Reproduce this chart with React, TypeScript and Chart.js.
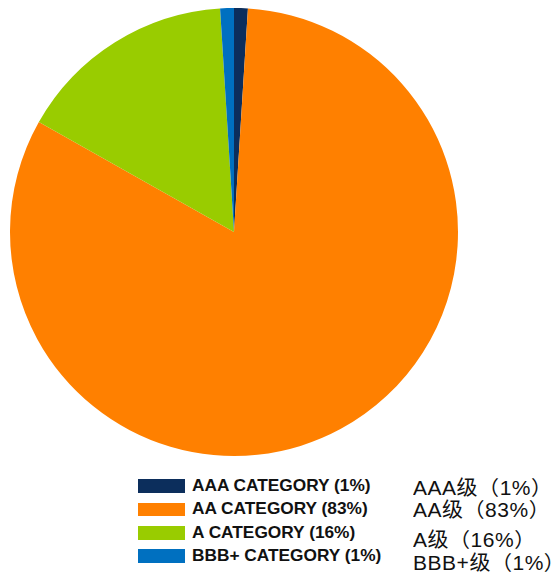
import React, { useEffect, useRef } from "react";
import { Chart, registerables } from "chart.js";

Chart.register(...registerables);

const categories = ["AAA CATEGORY", "AA CATEGORY", "A CATEGORY", "BBB+ CATEGORY"];
const chineseLabels = ["AAA级", "AA级", "A级", "BBB+级"];
const values = [1, 83, 16, 1];
const colors = ["#0c2e5c", "#ff8000", "#99cc00", "#0070c0"];

const boxTops = [479, 502.5, 526, 549.3];
const textTops = [477, 500.4, 523.7, 547.2];
const cnTops = [478, 500.4, 530.4, 553];

export default function App() {
  const ref = useRef<HTMLCanvasElement>(null);
  useEffect(() => {
    if (!ref.current) return;
    const chart = new Chart(ref.current, {
      type: "pie",
      data: {
        labels: categories,
        datasets: [
          {
            data: values,
            backgroundColor: colors,
            borderWidth: 0,
          },
        ],
      },
      options: {
        animation: false,
        responsive: false,
        layout: { padding: 8 },
        plugins: {
          legend: { display: false },
          tooltip: { enabled: false },
        },
      },
    });
    return () => chart.destroy();
  }, []);

  return (
    <div style={{ position: "absolute", left: 0, top: 0, width: 551, height: 574, background: "#fff", overflow: "hidden" }}>
      <canvas ref={ref} width={468} height={464} style={{ position: "absolute", left: 0, top: 0, width: 468, height: 464 }} />
      {categories.map((c, i) => (
        <React.Fragment key={c}>
          <div
            style={{
              position: "absolute",
              left: 138,
              top: boxTops[i],
              width: 47,
              height: 13.5,
              background: colors[i],
            }}
          />
          <div
            style={{
              position: "absolute",
              left: 192,
              top: textTops[i],
              fontFamily: "'Liberation Sans', Arial, sans-serif",
              fontWeight: "bold",
              fontSize: 17.3,
              lineHeight: "17px",
              whiteSpace: "nowrap",
              color: "#111",
            }}
          >
            {`${c} (${values[i]}%)`}
          </div>
          <div
            style={{
              position: "absolute",
              left: 413,
              top: cnTops[i],
              fontFamily: "'Liberation Sans', Arial, 'Noto Sans CJK SC', sans-serif",
              fontSize: 20,
              lineHeight: "20px",
              letterSpacing: 0.5,
              transform: "scaleX(1.05)",
              transformOrigin: "left top",
              whiteSpace: "nowrap",
              color: "#111",
            }}
          >
            {`${chineseLabels[i]}（${values[i]}%）`}
          </div>
        </React.Fragment>
      ))}
    </div>
  );
}
